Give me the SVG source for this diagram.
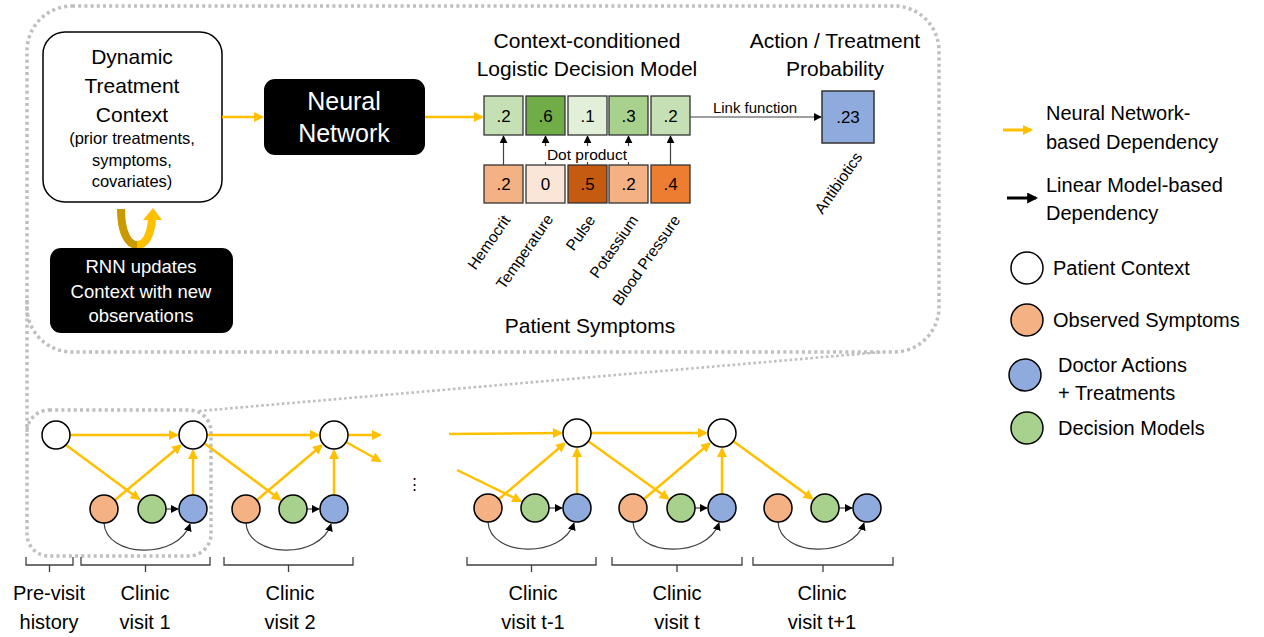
<svg xmlns="http://www.w3.org/2000/svg" width="1264" height="637" viewBox="0 0 1264 637">
  <style>
    text { font-family: "Liberation Sans", Arial, sans-serif; fill: #000; }
    .mid { text-anchor: middle; }
    .title { font-size: 21px; }
    .inv { fill: #fff; }
    .val { font-size: 17px; text-anchor: middle; }
    .rot { font-size: 15.5px; text-anchor: end; }
    .lab { font-size: 20px; text-anchor: middle; }
    .leg { font-size: 20px; }
    .gold { stroke: #FFC000; stroke-width: 2.5; fill: none; marker-end: url(#ah-gold); }
    .thin { stroke: #404040; stroke-width: 1.2; fill: none; marker-end: url(#ah-black); }
    .dots { stroke: #BFBFBF; stroke-width: 3.5; fill: none; stroke-dasharray: 3 3.2; }
    .dots2 { stroke: #BFBFBF; stroke-width: 2.6; fill: none; stroke-dasharray: 2.6 2.6; }
    .node { stroke: #000; stroke-width: 1.5; }
    .cell { stroke: #333; stroke-width: 1.3; }
    .brace { stroke: #404040; stroke-width: 1.3; fill: none; }
  </style>
  <defs>
    <marker id="ah-gold" viewBox="0 0 10 10" markerWidth="11" markerHeight="10" refX="8" refY="5" orient="auto" markerUnits="userSpaceOnUse">
      <path d="M0,0 L10,5 L0,10 z" fill="#FFC000"/>
    </marker>
    <marker id="ah-black" viewBox="0 0 10 10" markerWidth="8" markerHeight="8" refX="9" refY="5" orient="auto" markerUnits="userSpaceOnUse">
      <path d="M0,0 L10,5 L0,10 z" fill="#000"/>
    </marker>
    <marker id="ah-black-lg" viewBox="0 0 10 10" markerWidth="11" markerHeight="11" refX="8" refY="5" orient="auto" markerUnits="userSpaceOnUse">
      <path d="M0,0 L10,5 L0,10 z" fill="#000"/>
    </marker>
  </defs>

  <rect width="1264" height="637" fill="#fff"/>

  <!-- dotted zoom-in outlines -->
  <g id="zoom-outline">
    <rect class="dots" x="27" y="6" width="912" height="346" rx="45"/>
    <line class="dots" x1="27" y1="300" x2="27" y2="432"/>
    <rect class="dots" x="27" y="410" width="184" height="146" rx="22"/>
    <line class="dots2" x1="199" y1="411" x2="882" y2="352"/>
  </g>

  <!-- model detail (top) -->
  <g id="context-box">
    <rect x="43" y="32" width="179" height="170" rx="22" fill="#fff" stroke="#000" stroke-width="1.5"/>
    <text class="mid" x="132" y="64" font-size="21">Dynamic</text>
    <text class="mid" x="132" y="93" font-size="21">Treatment</text>
    <text class="mid" x="132" y="122" font-size="21">Context</text>
    <text class="mid" x="132" y="144" font-size="16.5">(prior treatments,</text>
    <text class="mid" x="132" y="166" font-size="16.5">symptoms,</text>
    <text class="mid" x="132" y="187" font-size="16.5">covariates)</text>
  </g>

  <g id="rnn-loop">
    <path d="M121,209 C121,232 128,245 137,245" stroke="#C99A00" stroke-width="8" fill="none"/>
    <path d="M137,245 C146,245 151,234 152,219" stroke="#FFC000" stroke-width="8" fill="none"/>
    <path d="M143,220 L153,208 L162,220 z" fill="#FFC000"/>
  </g>

  <g id="rnn-box">
    <rect x="50" y="248" width="183" height="85" rx="11" fill="#000"/>
    <text class="mid inv" x="141" y="273" font-size="18.5">RNN updates</text>
    <text class="mid inv" x="141" y="298" font-size="18.5">Context with new</text>
    <text class="mid inv" x="141" y="322" font-size="18.5">observations</text>
  </g>

  <g id="neural-network">
    <rect x="264" y="79" width="161" height="76" rx="11" fill="#000"/>
    <text class="mid inv" x="344" y="110" font-size="25">Neural</text>
    <text class="mid inv" x="344" y="142" font-size="25">Network</text>
  </g>

  <g id="decision-model">
    <text class="mid title" x="587" y="48">Context-conditioned</text>
    <text class="mid title" x="587" y="76">Logistic Decision Model</text>
    <rect class="cell" x="484" y="96" width="39" height="39" fill="#C5E0B4"/>
    <rect class="cell" x="526" y="96" width="39" height="39" fill="#70AD47"/>
    <rect class="cell" x="568" y="96" width="39" height="39" fill="#E2F0D9"/>
    <rect class="cell" x="609" y="96" width="39" height="39" fill="#A9D18E"/>
    <rect class="cell" x="651" y="96" width="39" height="39" fill="#C5E0B4"/>
    <text class="val" x="503.5" y="122">.2</text>
    <text class="val" x="545.5" y="122">.6</text>
    <text class="val" x="587.5" y="122">.1</text>
    <text class="val" x="628.5" y="122">.3</text>
    <text class="val" x="670.5" y="122">.2</text>
  </g>

  <g id="patient-symptoms">
    <rect class="cell" x="484" y="165" width="39" height="38" fill="#F4B183"/>
    <rect class="cell" x="526" y="165" width="39" height="38" fill="#FBE5D6"/>
    <rect class="cell" x="568" y="165" width="39" height="38" fill="#C55A11"/>
    <rect class="cell" x="609" y="165" width="39" height="38" fill="#F4B183"/>
    <rect class="cell" x="651" y="165" width="39" height="38" fill="#ED7D31"/>
    <text class="val" x="503.5" y="190">.2</text>
    <text class="val" x="545.5" y="190">0</text>
    <text class="val" x="587.5" y="190">.5</text>
    <text class="val" x="628.5" y="190">.2</text>
    <text class="val" x="670.5" y="190">.4</text>
    <text class="rot" transform="translate(511,220) rotate(-55)">Hemocrit</text>
    <text class="rot" transform="translate(554,219) rotate(-55)">Temperature</text>
    <text class="rot" transform="translate(596,220) rotate(-55)">Pulse</text>
    <text class="rot" transform="translate(639,220) rotate(-55)">Potassium</text>
    <text class="rot" transform="translate(681,220) rotate(-55)">Blood Pressure</text>
    <text class="mid title" x="590" y="333">Patient Symptoms</text>
  </g>

  <g id="treatment-probability">
    <text class="mid title" x="835" y="48">Action / Treatment</text>
    <text class="mid title" x="835" y="76">Probability</text>
    <rect x="822" y="91" width="52" height="52" fill="#8FAADC" stroke="#333" stroke-width="1.5"/>
    <text class="val" x="848" y="123">.23</text>
    <text class="rot" transform="translate(863,157) rotate(-55)">Antibiotics</text>
  </g>

  <!-- top connectors -->
  <g id="top-connectors">
    <line class="gold" x1="222" y1="117" x2="262" y2="117"/>
    <line class="gold" x1="425" y1="117" x2="482" y2="117"/>
    <line class="thin" x1="690" y1="117" x2="821" y2="117"/>
    <text x="755" y="113" font-size="15" text-anchor="middle">Link function</text>
    <line class="thin" x1="503.5" y1="165" x2="503.5" y2="136"/>
    <line class="thin" x1="545.5" y1="165" x2="545.5" y2="136"/>
    <line class="thin" x1="587.5" y1="165" x2="587.5" y2="136"/>
    <line class="thin" x1="628.5" y1="165" x2="628.5" y2="136"/>
    <line class="thin" x1="670.5" y1="165" x2="670.5" y2="136"/>
    <rect x="541" y="146" width="92" height="16" fill="#fff"/>
    <text x="587" y="160" font-size="15.5" text-anchor="middle">Dot product</text>
  </g>

  <!-- unrolled visit graph (bottom) -->
  <g id="graph-connectors">
    <line class="gold" x1="70" y1="435" x2="177" y2="435"/>
    <line class="gold" x1="66" y1="445" x2="139" y2="499"/>
    <line class="gold" x1="115" y1="500" x2="180.5" y2="445.5"/>
    <line class="gold" x1="193" y1="495" x2="193" y2="451"/>
    <line class="gold" x1="207" y1="435" x2="318" y2="435"/>
    <line class="gold" x1="204" y1="443" x2="280" y2="499.5"/>
    <line class="gold" x1="257" y1="500" x2="321.5" y2="445.5"/>
    <line class="gold" x1="334" y1="495" x2="334" y2="451"/>
    <line class="gold" x1="348" y1="435" x2="380" y2="435"/>
    <line class="gold" x1="346" y1="442" x2="380" y2="461"/>
    <line class="gold" x1="449" y1="434" x2="561" y2="433"/>
    <line class="gold" x1="457" y1="470" x2="520.5" y2="501"/>
    <line class="gold" x1="499" y1="499" x2="564.5" y2="443.5"/>
    <line class="gold" x1="577" y1="494" x2="577" y2="449"/>
    <line class="gold" x1="591" y1="433" x2="706" y2="433"/>
    <line class="gold" x1="588" y1="441" x2="668" y2="498.5"/>
    <line class="gold" x1="644" y1="499" x2="709.5" y2="443.5"/>
    <line class="gold" x1="722" y1="494" x2="722" y2="449"/>
    <line class="gold" x1="733" y1="441" x2="812" y2="498.5"/>

    <line class="thin" x1="166" y1="509" x2="178" y2="509"/>
    <line class="thin" x1="307" y1="509" x2="319" y2="509"/>
    <line class="thin" x1="549" y1="508" x2="562" y2="508"/>
    <line class="thin" x1="695" y1="508" x2="707" y2="508"/>
    <line class="thin" x1="839" y1="508" x2="852" y2="508"/>

    <path class="thin" d="M104,523 C106,558 178,560 190,524"/>
    <path class="thin" d="M246,523 C248,558 320,560 331,524"/>
    <path class="thin" d="M488,522 C490,557 562,559 574,523"/>
    <path class="thin" d="M633,522 C635,557 707,559 719,523"/>
    <path class="thin" d="M778,522 C780,557 852,559 864,523"/>
  </g>

  <g id="context-nodes">
    <circle class="node" cx="56" cy="435" r="14" fill="#fff"/>
    <circle class="node" cx="193" cy="435" r="14" fill="#fff"/>
    <circle class="node" cx="334" cy="435" r="14" fill="#fff"/>
    <circle class="node" cx="577" cy="433" r="14" fill="#fff"/>
    <circle class="node" cx="722" cy="433" r="14" fill="#fff"/>
  </g>
  <g id="visit-1">
    <circle class="node" cx="104" cy="509" r="14" fill="#F4B183"/>
    <circle class="node" cx="152" cy="509" r="14" fill="#A9D18E"/>
    <circle class="node" cx="193" cy="509" r="14" fill="#8FAADC"/>
  </g>
  <g id="visit-2">
    <circle class="node" cx="246" cy="509" r="14" fill="#F4B183"/>
    <circle class="node" cx="293" cy="509" r="14" fill="#A9D18E"/>
    <circle class="node" cx="334" cy="509" r="14" fill="#8FAADC"/>
  </g>
  <g id="visit-t-minus-1">
    <circle class="node" cx="488" cy="508" r="14" fill="#F4B183"/>
    <circle class="node" cx="535" cy="508" r="14" fill="#A9D18E"/>
    <circle class="node" cx="577" cy="508" r="14" fill="#8FAADC"/>
  </g>
  <g id="visit-t">
    <circle class="node" cx="633" cy="508" r="14" fill="#F4B183"/>
    <circle class="node" cx="681" cy="508" r="14" fill="#A9D18E"/>
    <circle class="node" cx="722" cy="508" r="14" fill="#8FAADC"/>
  </g>
  <g id="visit-t-plus-1">
    <circle class="node" cx="778" cy="508" r="14" fill="#F4B183"/>
    <circle class="node" cx="825" cy="508" r="14" fill="#A9D18E"/>
    <circle class="node" cx="867" cy="508" r="14" fill="#8FAADC"/>
  </g>

  <text x="414" y="489" font-family="DejaVu Sans, sans-serif" font-size="15" text-anchor="middle">⋮</text>

  <!-- visit brackets and labels -->
  <g id="timeline">
    <path class="brace" d="M26,557 V565 H73 V557 M49.5,565 V572"/>
    <path class="brace" d="M81,557 V565 H210 V557 M145.5,565 V572"/>
    <path class="brace" d="M224,557 V565 H353 V557 M288.5,565 V572"/>
    <path class="brace" d="M467,557 V565 H596 V557 M531.5,565 V572"/>
    <path class="brace" d="M612,557 V565 H742 V557 M677,565 V572"/>
    <path class="brace" d="M753,557 V565 H893 V557 M823,565 V572"/>
    <text class="lab" x="49" y="600">Pre-visit</text>
    <text class="lab" x="49" y="629">history</text>
    <text class="lab" x="145" y="600">Clinic</text>
    <text class="lab" x="145" y="629">visit 1</text>
    <text class="lab" x="290" y="600">Clinic</text>
    <text class="lab" x="290" y="629">visit 2</text>
    <text class="lab" x="533" y="600">Clinic</text>
    <text class="lab" x="533" y="629">visit t-1</text>
    <text class="lab" x="677" y="600">Clinic</text>
    <text class="lab" x="677" y="629">visit t</text>
    <text class="lab" x="822" y="600">Clinic</text>
    <text class="lab" x="822" y="629">visit t+1</text>
  </g>

  <!-- legend -->
  <g id="legend">
    <line x1="1003" y1="130" x2="1031" y2="130" stroke="#FFC000" stroke-width="3" marker-end="url(#ah-gold)"/>
    <text class="leg" x="1046" y="120">Neural Network-</text>
    <text class="leg" x="1046" y="149">based Dependency</text>
    <line x1="1007" y1="198" x2="1036" y2="198" stroke="#000" stroke-width="3" marker-end="url(#ah-black-lg)"/>
    <text class="leg" x="1046" y="192">Linear Model-based</text>
    <text class="leg" x="1046" y="220">Dependency</text>
    <circle class="node" cx="1027" cy="268" r="16" fill="#fff"/>
    <text class="leg" x="1053" y="275">Patient Context</text>
    <circle class="node" cx="1027" cy="320" r="16" fill="#F4B183"/>
    <text class="leg" x="1053" y="327">Observed Symptoms</text>
    <circle class="node" cx="1025" cy="375" r="16" fill="#8FAADC"/>
    <text class="leg" x="1058" y="372">Doctor Actions</text>
    <text class="leg" x="1058" y="400">+ Treatments</text>
    <circle class="node" cx="1027" cy="428" r="16" fill="#A9D18E"/>
    <text class="leg" x="1058" y="435">Decision Models</text>
  </g>
</svg>
